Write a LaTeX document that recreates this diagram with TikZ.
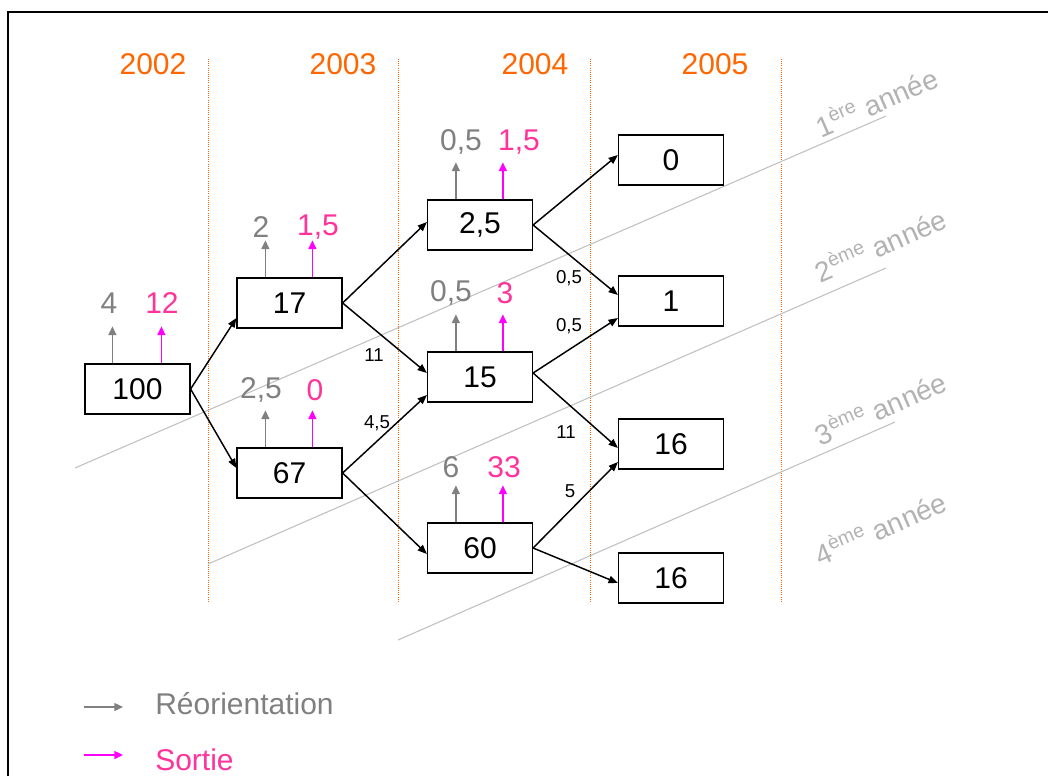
\documentclass[tikz,border=0pt]{standalone}
\usepackage{fontspec}
\setmainfont{Liberation Sans}
\usetikzlibrary{arrows.meta}

\definecolor{orangean}{HTML}{FF6600}
\definecolor{grisreo}{HTML}{808080}
\definecolor{grisannee}{HTML}{B2B2B2}
\definecolor{grisligne}{HTML}{C0C0C0}
\definecolor{rosesortie}{HTML}{FF3399}
\definecolor{magsortie}{HTML}{FF00FF}

\tikzset{
  effectif/.style={draw, line width=0.9pt, minimum width=78.75pt, minimum height=37.5pt,
    inner sep=0pt, font=\fontsize{22.5}{27}\selectfont},
  flux/.style={line width=1.1pt, -{Triangle[length=7pt,width=5.5pt]}},
  reo/.style={grisreo, line width=1pt, -{Triangle[length=6.5pt,width=6pt]}},
  sortie/.style={magsortie, line width=1pt, -{Triangle[length=6.5pt,width=6pt]}},
  nbreo/.style={grisreo, font=\fontsize{22.5}{27}\selectfont},
  nbsortie/.style={rosesortie, font=\fontsize{22.5}{27}\selectfont},
  annee/.style={orangean, font=\fontsize{22.5}{27}\selectfont},
  promo/.style={grisannee, rotate=23.5, font=\fontsize{21}{25}\selectfont},
  poids/.style={font=\fontsize{14}{16}\selectfont},
  colonne/.style={orangean, densely dotted, line width=0.6pt},
  cohorte/.style={grisligne, line width=0.8pt}
}

\begin{document}
\begin{tikzpicture}[x=0.75pt, y=-0.75pt] %Flux des effectifs par cohorte
            \useasboundingbox (0,0) rectangle (1048,776);
            \draw[line width=1.5pt] (8,776) -- (8,12) -- (1048,12);

            % colonnes
            \draw[colonne] (208,59) -- (208,602);
            \draw[colonne] (398,59) -- (398,602);
            \draw[colonne] (590,59) -- (590,602);
            \draw[colonne] (781,59) -- (781,602);

            \node[annee] (a2002) at (153,64) {2002};
            \node[annee] (a2003) at (343,64) {2003};
            \node[annee] (a2004) at (535,64) {2004};
            \node[annee] (a2005) at (715,64) {2005};

            % cohortes
            \draw[cohorte] (75,468) -- (886,116);
            \draw[cohorte] (208,564) -- (886,268);
            \draw[cohorte] (398,640) -- (895,422);

            \node[promo] (p1) at (876,101) {1\textsuperscript{ère} année};
            \node[promo] (p2) at (880,244) {2\textsuperscript{ème} année};
            \node[promo] (p3) at (880,407) {3\textsuperscript{ème} année};
            \node[promo] (p4) at (880,527) {4\textsuperscript{ème} année};

            % effectifs
            \node[effectif] (n100) at (137.5,389) {100};
            \node[effectif] (n17) at (289.5,303) {17};
            \node[effectif] (n67) at (289.5,473) {67};
            \node[effectif] (n25) at (480,225) {2,5};
            \node[effectif] (n15) at (480,377) {15};
            \node[effectif] (n60) at (480,548) {60};
            \node[effectif] (n0) at (671,160) {0};
            \node[effectif] (n1) at (671,301) {1};
            \node[effectif] (n16a) at (671,444) {16};
            \node[effectif] (n16b) at (671,578) {16};

            % reorientations et sorties
            \draw[reo] (n100.north west) ++(28,0) -- ++(0,-37);
            \draw[sortie] (n100.north west) ++(77,0) -- ++(0,-37);
            \node[nbreo] (r100) at (109,303) {4};
            \node[nbsortie] (s100) at (162,303) {12};

            \draw[reo] (n17.north west) ++(29,0) -- ++(0,-37);
            \draw[sortie] (n17.north west) ++(76,0) -- ++(0,-37);
            \node[nbreo] (r17) at (261,227) {2};
            \node[nbsortie] (s17) at (318,227) {1,5};

            \draw[reo] (n67.north west) ++(29,0) -- ++(0,-37);
            \draw[sortie] (n67.north west) ++(76,0) -- ++(0,-37);
            \node[nbreo] (r67) at (261,390) {2,5};
            \node[nbsortie] (s67) at (315,390) {0};

            \draw[reo] (n25.north west) ++(29,0) -- ++(0,-37);
            \draw[sortie] (n25.north west) ++(76,0) -- ++(0,-37);
            \node[nbreo] (r25) at (461,142) {0,5};
            \node[nbsortie] (s25) at (519,142) {1,5};

            \draw[reo] (n15.north west) ++(29,0) -- ++(0,-37);
            \draw[sortie] (n15.north west) ++(76,0) -- ++(0,-37);
            \node[nbreo] (r15) at (451,293) {0,5};
            \node[nbsortie] (s15) at (505,293) {3};

            \draw[reo] (n60.north west) ++(29,0) -- ++(0,-37);
            \draw[sortie] (n60.north west) ++(76,0) -- ++(0,-37);
            \node[nbreo] (r60) at (451,467) {6};
            \node[nbsortie] (s60) at (504,467) {33};

            % passages
            \draw[flux] (n100.east) -- ([yshift=-11.25pt]n17.west);
            \draw[flux] (n100.east) -- ([yshift=3.75pt]n67.west);
            \draw[flux] (n17.east) -- ([yshift=2.25pt]n25.west);
            \draw[flux] (n17.east) -- ([yshift=3pt]n15.west);
            \draw[flux] (n67.east) -- ([yshift=-13.5pt]n15.west);
            \draw[flux] (n67.east) -- ([yshift=-4.5pt]n60.west);
            \draw[flux] (n25.east) -- ([yshift=3.75pt]n0.west);
            \draw[flux] (n25.east) -- ([yshift=4.5pt]n1.west);
            \draw[flux] ([yshift=3pt]n15.east) -- ([yshift=-12.75pt]n1.west);
            \draw[flux] ([yshift=3pt]n15.east) -- ([yshift=-3pt]n16a.west);
            \draw[flux] (n60.east) -- ([yshift=-13.5pt]n16a.west);
            \draw[flux] (n60.east) -- ([yshift=-3.75pt]n16b.west);

            \node[poids] (w1) at (374,355) {11};
            \node[poids] (w2) at (377,423) {4,5};
            \node[poids] (w3) at (569,278) {0,5};
            \node[poids] (w4) at (569,326) {0,5};
            \node[poids] (w5) at (566,432) {11};
            \node[poids] (w6) at (570,491) {5};

            % legende
            \coordinate (lr) at (84,707);
            \coordinate (ls) at (84,755);
            \draw[reo] (lr) -- ++(39,0);
            \draw[sortie] (ls) -- ++(39,0);
            \node[nbreo, anchor=west, inner sep=0pt] (tr) at (155,704) {Réorientation};
            \node[nbsortie, anchor=west, inner sep=0pt] (ts) at (155,760) {Sortie};
        \end{tikzpicture}
\end{document}
